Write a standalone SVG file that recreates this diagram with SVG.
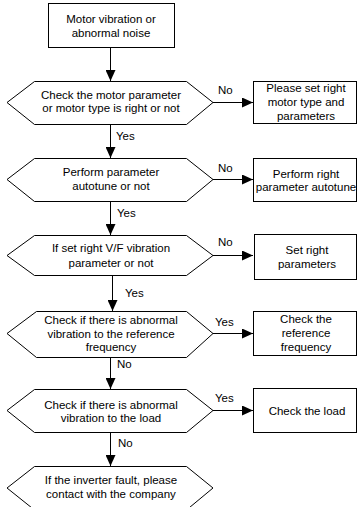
<svg xmlns="http://www.w3.org/2000/svg" width="357" height="507" viewBox="0 0 357 507">
<defs>
<marker id="ah" viewBox="0 0 11 10" refX="11" refY="5" markerWidth="11" markerHeight="10" orient="auto" markerUnits="userSpaceOnUse"><path d="M0,0 L11,5 L0,10 z" fill="#000"/></marker>
<style>
.s{fill:#fff;stroke:#000;stroke-width:1}
.t{font-family:"Liberation Sans",Arial,sans-serif;font-size:11.5px;fill:#000;text-anchor:middle}
.l{font-family:"Liberation Sans",Arial,sans-serif;font-size:11.5px;fill:#000}
.c{stroke:#000;stroke-width:1;fill:none;marker-end:url(#ah)}
</style>
</defs>
<rect width="357" height="507" fill="#fff"/>
<g id="connectors">
<line class="c" x1="110.5" y1="47" x2="110.5" y2="81"/>
<line class="c" x1="110.5" y1="124" x2="110.5" y2="158"/>
<line class="c" x1="110.5" y1="201" x2="110.5" y2="235"/>
<line class="c" x1="112.5" y1="275" x2="112.5" y2="311"/>
<line class="c" x1="110.5" y1="357" x2="110.5" y2="389"/>
<line class="c" x1="110.5" y1="432" x2="110.5" y2="466"/>
<line class="c" x1="213" y1="102.5" x2="253" y2="102.5"/>
<line class="c" x1="213" y1="179.5" x2="253" y2="179.5"/>
<line class="c" x1="213" y1="255.5" x2="253" y2="255.5"/>
<line class="c" x1="213" y1="333.5" x2="253" y2="333.5"/>
<line class="c" x1="213" y1="410.5" x2="253" y2="410.5"/>
<text class="l" x="116" y="140">Yes</text>
<text class="l" x="117" y="217">Yes</text>
<text class="l" x="125" y="297">Yes</text>
<text class="l" x="117" y="368">No</text>
<text class="l" x="118" y="447">No</text>
<text class="l" x="218" y="94">No</text>
<text class="l" x="218" y="172">No</text>
<text class="l" x="218" y="246">No</text>
<text class="l" x="215" y="326">Yes</text>
<text class="l" x="215" y="402">Yes</text>
</g>
<g id="start">
<rect class="s" x="48.5" y="3.5" width="126" height="44"/>
<text class="t" x="111" y="23">Motor vibration or</text>
<text class="t" x="111" y="37">abnormal noise</text>
</g>
<g id="d1">
<polygon class="s" points="7,102.5 34.5,81.5 186.5,81.5 213,102.5 186.5,124.5 34.5,124.5"/>
<text class="t" x="111" y="99">Check the motor parameter</text>
<text class="t" x="111" y="112">or motor type is right or not</text>
</g>
<g id="b1">
<rect class="s" x="253.5" y="81.5" width="103" height="42"/>
<text class="t" x="306" y="92">Please set right</text>
<text class="t" x="306" y="106">motor type and</text>
<text class="t" x="306" y="120">parameters</text>
</g>
<g id="d2">
<polygon class="s" points="7,179.5 34.5,158.5 186.5,158.5 213,179.5 186.5,201.5 34.5,201.5"/>
<text class="t" x="111" y="176">Perform parameter</text>
<text class="t" x="111" y="190">autotune or not</text>
</g>
<g id="b2">
<rect class="s" x="253.5" y="158.5" width="103" height="43"/>
<text class="t" x="306" y="178">Perform right</text>
<text class="t" x="306" y="191">parameter autotune</text>
</g>
<g id="d3">
<polygon class="s" points="7,255.5 34.5,235.5 186.5,235.5 213,255.5 186.5,275.5 34.5,275.5"/>
<text class="t" x="111" y="252">If set right V/F vibration</text>
<text class="t" x="111" y="267">parameter or not</text>
</g>
<g id="b3">
<rect class="s" x="254.5" y="234.5" width="102" height="45"/>
<text class="t" x="307" y="254">Set right</text>
<text class="t" x="307" y="268">parameters</text>
</g>
<g id="d4">
<polygon class="s" points="7,333.5 36.5,311.5 186.5,311.5 213,333.5 186.5,357.5 36.5,357.5"/>
<text class="t" x="111" y="324">Check if there is abnormal</text>
<text class="t" x="111" y="338">vibration to the reference</text>
<text class="t" x="111" y="351">frequency</text>
</g>
<g id="b4">
<rect class="s" x="253.5" y="311.5" width="103" height="44"/>
<text class="t" x="306" y="323">Check the</text>
<text class="t" x="306" y="337">reference</text>
<text class="t" x="306" y="351">frequency</text>
</g>
<g id="d5">
<polygon class="s" points="7,410.5 34.5,389.5 186.5,389.5 213,410.5 186.5,432.5 34.5,432.5"/>
<text class="t" x="111" y="409">Check if there is abnormal</text>
<text class="t" x="111" y="422">vibration to the load</text>
</g>
<g id="b5">
<rect class="s" x="253.5" y="388.5" width="103" height="44"/>
<text class="t" x="307" y="415">Check the load</text>
</g>
<g id="end">
<polygon class="s" points="7,488 34.5,466.5 186.5,466.5 213,488 186.5,510 34.5,510"/>
<text class="t" x="111" y="484">If the inverter fault, please</text>
<text class="t" x="111" y="498">contact with the company</text>
</g>
</svg>
